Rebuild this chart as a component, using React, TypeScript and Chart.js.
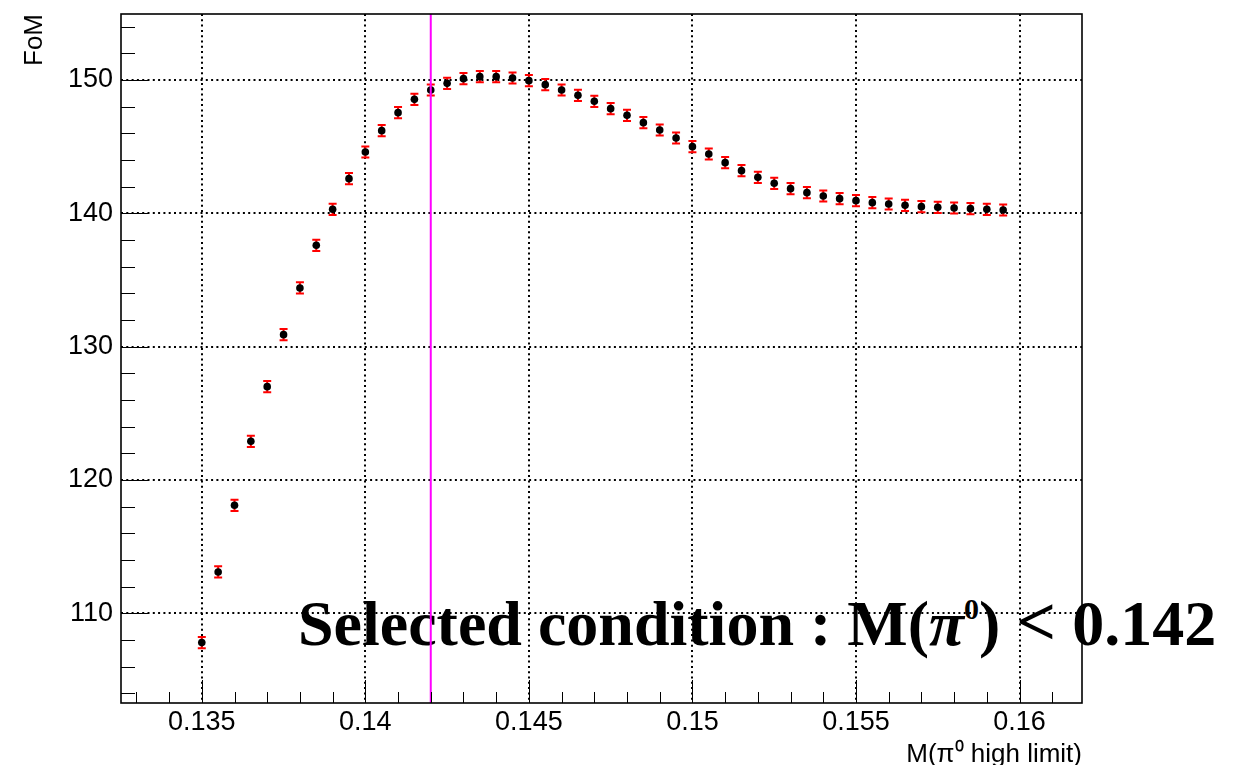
import React, { useEffect, useRef } from "react";
import { Chart, registerables } from "chart.js";

Chart.register(...registerables);

// ---- data ----
const cutValues: number[] = [
  0.135, 0.1355, 0.136, 0.1365, 0.137, 0.1375, 0.138, 0.1385, 0.139, 0.1395,
  0.14, 0.1405, 0.141, 0.1415, 0.142, 0.1425, 0.143, 0.1435, 0.144, 0.1445,
  0.145, 0.1455, 0.146, 0.1465, 0.147, 0.1475, 0.148, 0.1485, 0.149, 0.1495,
  0.15, 0.1505, 0.151, 0.1515, 0.152, 0.1525, 0.153, 0.1535, 0.154, 0.1545,
  0.155, 0.1555, 0.156, 0.1565, 0.157, 0.1575, 0.158, 0.1585, 0.159, 0.1595,
];
const fomValues: number[] = [
  107.8, 113.1, 118.1, 122.9, 127.0, 130.9, 134.4, 137.6, 140.3, 142.6,
  144.6, 146.2, 147.55, 148.55, 149.25, 149.75, 150.1, 150.25, 150.25, 150.15,
  149.95, 149.65, 149.25, 148.85, 148.4, 147.85, 147.35, 146.8, 146.25, 145.65,
  145.0, 144.45, 143.8, 143.2, 142.7, 142.25, 141.85, 141.55, 141.3, 141.1,
  140.95, 140.8, 140.7, 140.6, 140.5, 140.45, 140.4, 140.35, 140.3, 140.25,
];
const fomErrors: number[] = [
  0.42, 0.42, 0.42, 0.42, 0.42, 0.42, 0.42, 0.42, 0.42, 0.42,
  0.42, 0.42, 0.42, 0.42, 0.42, 0.42, 0.42, 0.42, 0.42, 0.42,
  0.42, 0.42, 0.42, 0.42, 0.42, 0.42, 0.42, 0.42, 0.42, 0.42,
  0.42, 0.42, 0.42, 0.42, 0.42, 0.42, 0.42, 0.42, 0.42, 0.42,
  0.42, 0.42, 0.42, 0.42, 0.42, 0.42, 0.42, 0.42, 0.42, 0.42,
];
const selectedCut = 0.142;
const xRange = [0.13253, 0.16191];
const yRange = [103.27, 154.95];
const xTickStep = 0.001;
const xLabelStep = 0.005;
const yTickStep = 2;
const yLabelStep = 10;

const isMultiple = (v: number, step: number) => {
  const r = v / step;
  return Math.abs(r - Math.round(r)) < 1e-6;
};

const fmt = (v: number) => String(parseFloat(v.toFixed(6)));

const SANS = "'Liberation Sans', Arial, Helvetica, sans-serif";

const errorBarPlugin = {
  id: "errorBars",
  beforeDatasetsDraw(chart: any) {
    const ctx = chart.ctx;
    const xs = chart.scales.x;
    const ys = chart.scales.y;
    ctx.save();
    ctx.strokeStyle = "#ff0000";
    ctx.lineWidth = 2;
    for (let i = 0; i < cutValues.length; i++) {
      const px = xs.getPixelForValue(cutValues[i]);
      const pLo = ys.getPixelForValue(fomValues[i] - fomErrors[i]);
      const pHi = ys.getPixelForValue(fomValues[i] + fomErrors[i]);
      ctx.beginPath();
      ctx.moveTo(px, pLo);
      ctx.lineTo(px, pHi);
      ctx.moveTo(px - 4, pLo);
      ctx.lineTo(px + 4, pLo);
      ctx.moveTo(px - 4, pHi);
      ctx.lineTo(px + 4, pHi);
      ctx.stroke();
    }
    ctx.restore();
  },
};

const framePlugin = {
  id: "rootFrame",
  afterDraw(chart: any) {
    const ctx = chart.ctx;
    const { left, right, top, bottom } = chart.chartArea;
    const xs = chart.scales.x;
    const ys = chart.scales.y;
    ctx.save();
    ctx.strokeStyle = "#000";
    ctx.lineWidth = 1;
    ctx.beginPath();
    for (const t of xs.ticks) {
      const px = Math.round(xs.getPixelForValue(t.value)) + 0.5;
      const len = isMultiple(t.value, xLabelStep) ? 23 : 11;
      ctx.moveTo(px, bottom);
      ctx.lineTo(px, bottom - len);
    }
    for (const t of ys.ticks) {
      const py = Math.round(ys.getPixelForValue(t.value)) + 0.5;
      const len = isMultiple(t.value, yLabelStep) ? 28 : 14;
      ctx.moveTo(left, py);
      ctx.lineTo(left + len, py);
    }
    ctx.stroke();
    ctx.lineWidth = 1.6;
    ctx.strokeRect(left, top, right - left, bottom - top);
    ctx.restore();
  },
};

export default function App() {
  const canvasRef = useRef<HTMLCanvasElement | null>(null);

  useEffect(() => {
    if (!canvasRef.current) return;
    const chart = new Chart(canvasRef.current, {
      type: "scatter",
      data: {
        datasets: [
          {
            label: "cut",
            data: [
              { x: selectedCut, y: yRange[0] },
              { x: selectedCut, y: yRange[1] },
            ],
            showLine: true,
            borderColor: "#ff00ff",
            borderWidth: 2,
            pointRadius: 0,
            order: 1,
          },
          {
            label: "FoM",
            data: cutValues.map((x, i) => ({ x, y: fomValues[i] })),
            showLine: false,
            pointRadius: 3.8,
            pointBackgroundColor: "#000",
            pointBorderColor: "#000",
            pointBorderWidth: 0,
            order: 2,
          },
        ],
      },
      options: {
        animation: false,
        responsive: false,
        events: [],
        layout: { padding: { top: 14, right: 170, left: 0, bottom: 0 } },
        plugins: { legend: { display: false }, tooltip: { enabled: false } },
        scales: {
          x: {
            type: "linear",
            min: xRange[0],
            max: xRange[1],
            afterFit(scale: any) {
              scale.height = 62;
              scale.paddingLeft = 0;
              scale.paddingRight = 0;
            },
            ticks: {
              stepSize: xTickStep,
              includeBounds: false,
              autoSkip: false,
              maxRotation: 0,
              minRotation: 0,
              padding: 3,
              color: "#000",
              font: { family: SANS, size: 27 },
              callback: (v: any) => (isMultiple(Number(v), xLabelStep) ? fmt(Number(v)) : ""),
            },
            grid: {
              drawTicks: false,
              lineWidth: 2,
              color: (c: any) =>
                c.tick && isMultiple(c.tick.value, xLabelStep) ? "#000" : "rgba(0,0,0,0)",
            },
            border: { display: false, dash: [2, 3.3] },
            title: {
              display: true,
              text: "M(π⁰ high limit)",
              align: "end",
              color: "#000",
              font: { family: SANS, size: 26, lineHeight: 0.75 },
              padding: { top: 0, bottom: 0 },
            },
          },
          y: {
            type: "linear",
            min: yRange[0],
            max: yRange[1],
            afterFit(scale: any) {
              scale.width = 121;
              scale.paddingTop = 0;
              scale.paddingBottom = 0;
            },
            ticks: {
              stepSize: yTickStep,
              includeBounds: false,
              autoSkip: false,
              padding: 8,
              color: "#000",
              font: { family: SANS, size: 27 },
              callback: (v: any) => (isMultiple(Number(v), yLabelStep) ? fmt(Number(v)) : ""),
            },
            grid: {
              drawTicks: false,
              lineWidth: 2,
              color: (c: any) =>
                c.tick && isMultiple(c.tick.value, yLabelStep) ? "#000" : "rgba(0,0,0,0)",
            },
            border: { display: false, dash: [2, 3.3] },
            title: {
              display: true,
              text: "FoM",
              align: "end",
              color: "#000",
              font: { family: SANS, size: 26 },
              padding: { top: 19, bottom: 0 },
            },
          },
        },
      },
      plugins: [errorBarPlugin, framePlugin],
    } as any);
    return () => chart.destroy();
  }, []);

  return (
    <div
      style={{
        position: "fixed",
        left: 0,
        top: 0,
        width: 1252,
        height: 765,
        background: "#fff",
        overflow: "hidden",
      }}
    >
      <div
        style={{
          position: "absolute",
          left: 298,
          top: 590,
          font: "bold 64px 'Liberation Serif', 'Times New Roman', serif",
          lineHeight: "64px",
          whiteSpace: "nowrap",
          color: "#000",
          zIndex: 0,
        }}
      >
        Selected condition : M(<i>π</i>
        <span
          style={{
            fontSize: 30,
            position: "relative",
            top: -26,
            lineHeight: 0,
          }}
        >
          0
        </span>
        ) <span style={{ fontSize: 70 }}>&lt;</span> 0.142
      </div>
      <canvas
        ref={canvasRef}
        width={1252}
        height={765}
        style={{ position: "absolute", left: 0, top: 0, width: 1252, height: 765, zIndex: 1 }}
      />
    </div>
  );
}
